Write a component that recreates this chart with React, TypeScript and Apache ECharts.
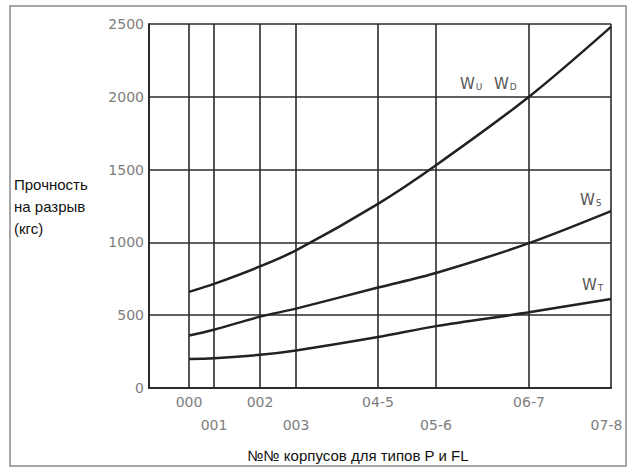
import React, { useEffect, useRef } from "react";
import * as echarts from "echarts";

// Case numbers and their relative positions along the horizontal scale (0..100)
const caseLabelsRow1 = ["000", "002", "04-5", "06-7"];
const caseLabelsRow2 = ["001", "003", "05-6", "07-8"];
const caseLabels = ["000", "001", "002", "003", "04-5", "05-6", "06-7", "07-8"];
const casePositions = [8.66, 14.07, 24.03, 31.82, 49.57, 62.12, 82.25, 100];

// Breaking strength (kgf) for each case
const wuWd = [660, 715, 835, 945, 1265, 1530, 2000, 2480];
const ws = [360, 400, 490, 545, 690, 790, 995, 1215];
const wt = [200, 205, 228, 258, 350, 425, 520, 612];

const yTicks = [0, 500, 1000, 1500, 2000, 2500];

const yTitle = "Прочность\nна разрыв\n(кгс)";
const xTitle = "№№ корпусов для типов P и FL";

const GRID_COLOR = "#2b2b2b";
const LABEL_COLOR = "#7d7d7d";

function labelFor(v: number): string {
  const i = casePositions.findIndex((p) => Math.abs(p - v) < 1e-6);
  if (i < 0) return "";
  return i === caseLabels.length - 1 ? "{last|" + caseLabels[i] + "}" : caseLabels[i];
}

function posOf(list: string[]): number[] {
  return list.map((l) => casePositions[caseLabels.indexOf(l)]);
}

function pairs(vals: number[]): number[][] {
  return vals.map((v, i) => [casePositions[i], v]);
}

export default function App() {
  const ref = useRef<HTMLDivElement>(null);

  useEffect(() => {
    if (!ref.current) return;
    const chart = echarts.init(ref.current, undefined, { renderer: "svg" });

    const baseXAxis = {
      type: "value" as const,
      min: 0,
      max: 100,
      splitLine: { show: false },
      axisTick: { show: false },
    };

    const xLabelStyle = {
      formatter: (v: number) => labelFor(v),
      color: LABEL_COLOR,
      fontFamily: "DejaVu Sans",
      fontSize: 14,
      margin: 7,
      showMaxLabel: true,
      showMinLabel: true,
      rich: {
        last: {
          color: LABEL_COLOR,
          fontFamily: "DejaVu Sans",
          fontSize: 14,
          padding: [0, 9, 0, 0],
        },
      },
    };

    const curveStyle = { color: "#222", width: 2.5 };

    const wLabel = (x: number, y: number, sub: string) => ({
      type: "text",
      x,
      y,
      style: {
        text: "{w|W}{s|" + sub + "}",
        verticalAlign: "middle",
        rich: {
          w: { fontFamily: "DejaVu Sans", fontSize: 15, fill: "#555" },
          s: { fontFamily: "DejaVu Sans", fontSize: 9, fill: "#555", padding: [6, 0, 0, 1] },
        },
      },
    });

    chart.setOption({
      animation: false,
      backgroundColor: "#ffffff",
      grid: { left: 149, right: 21, top: 24, bottom: 82, containLabel: false },
      xAxis: [
        {
          ...baseXAxis,
          position: "bottom",
          axisLine: { show: true, lineStyle: { color: GRID_COLOR, width: 2 } },
          axisLabel: { ...xLabelStyle, customValues: posOf(caseLabelsRow1) },
        },
        {
          ...baseXAxis,
          position: "bottom",
          offset: 23,
          axisLine: { show: false },
          axisLabel: { ...xLabelStyle, customValues: posOf(caseLabelsRow2) },
        },
      ],
      yAxis: {
        type: "value",
        min: yTicks[0],
        max: yTicks[yTicks.length - 1],
        interval: 500,
        axisLine: { show: true, lineStyle: { color: GRID_COLOR, width: 2 } },
        axisTick: { show: false },
        axisLabel: {
          formatter: (v: number) => String(v),
          color: LABEL_COLOR,
          fontFamily: "DejaVu Sans",
          fontSize: 14,
          margin: 5,
        },
        splitLine: { show: true, lineStyle: { color: GRID_COLOR, width: 1.6 } },
      },
      series: [
        {
          name: "Wu Wd",
          type: "line",
          xAxisIndex: 0,
          data: pairs(wuWd),
          smooth: 0.3,
          showSymbol: false,
          lineStyle: curveStyle,
          z: 5,
          markLine: {
            silent: true,
            symbol: ["none", "none"],
            label: { show: false },
            lineStyle: { color: GRID_COLOR, width: 1.6, type: "solid" },
            data: casePositions.map((p) => ({ xAxis: p })),
          },
        },
        {
          name: "Ws",
          type: "line",
          xAxisIndex: 0,
          data: pairs(ws),
          smooth: 0.3,
          showSymbol: false,
          lineStyle: curveStyle,
          z: 5,
        },
        {
          name: "Wt",
          type: "line",
          xAxisIndex: 0,
          data: pairs(wt),
          smooth: 0.3,
          showSymbol: false,
          lineStyle: curveStyle,
          z: 5,
        },
      ],
      graphic: [
        {
          type: "rect",
          shape: { x: 10, y: 6, width: 616, height: 460 },
          style: { fill: "none", stroke: "#8a8a8a", lineWidth: 1.5 },
          silent: true,
        },
        {
          type: "text",
          x: 14,
          y: 173,
          style: {
            text: yTitle,
            fontFamily: "Liberation Sans",
            fontSize: 15,
            lineHeight: 22,
            fill: "#111",
          },
        },
        {
          type: "text",
          x: 358,
          y: 455,
          style: {
            text: xTitle,
            fontFamily: "Liberation Sans",
            fontSize: 15,
            fill: "#111",
            align: "center",
            verticalAlign: "middle",
          },
        },
        wLabel(460, 84, "U"),
        wLabel(494, 84, "D"),
        wLabel(580, 200, "S"),
        wLabel(582, 285, "T"),
      ],
    });

    return () => chart.dispose();
  }, []);

  return (
    <div
      ref={ref}
      style={{ position: "fixed", left: 0, top: 0, width: 632, height: 470, background: "#fff" }}
    />
  );
}
